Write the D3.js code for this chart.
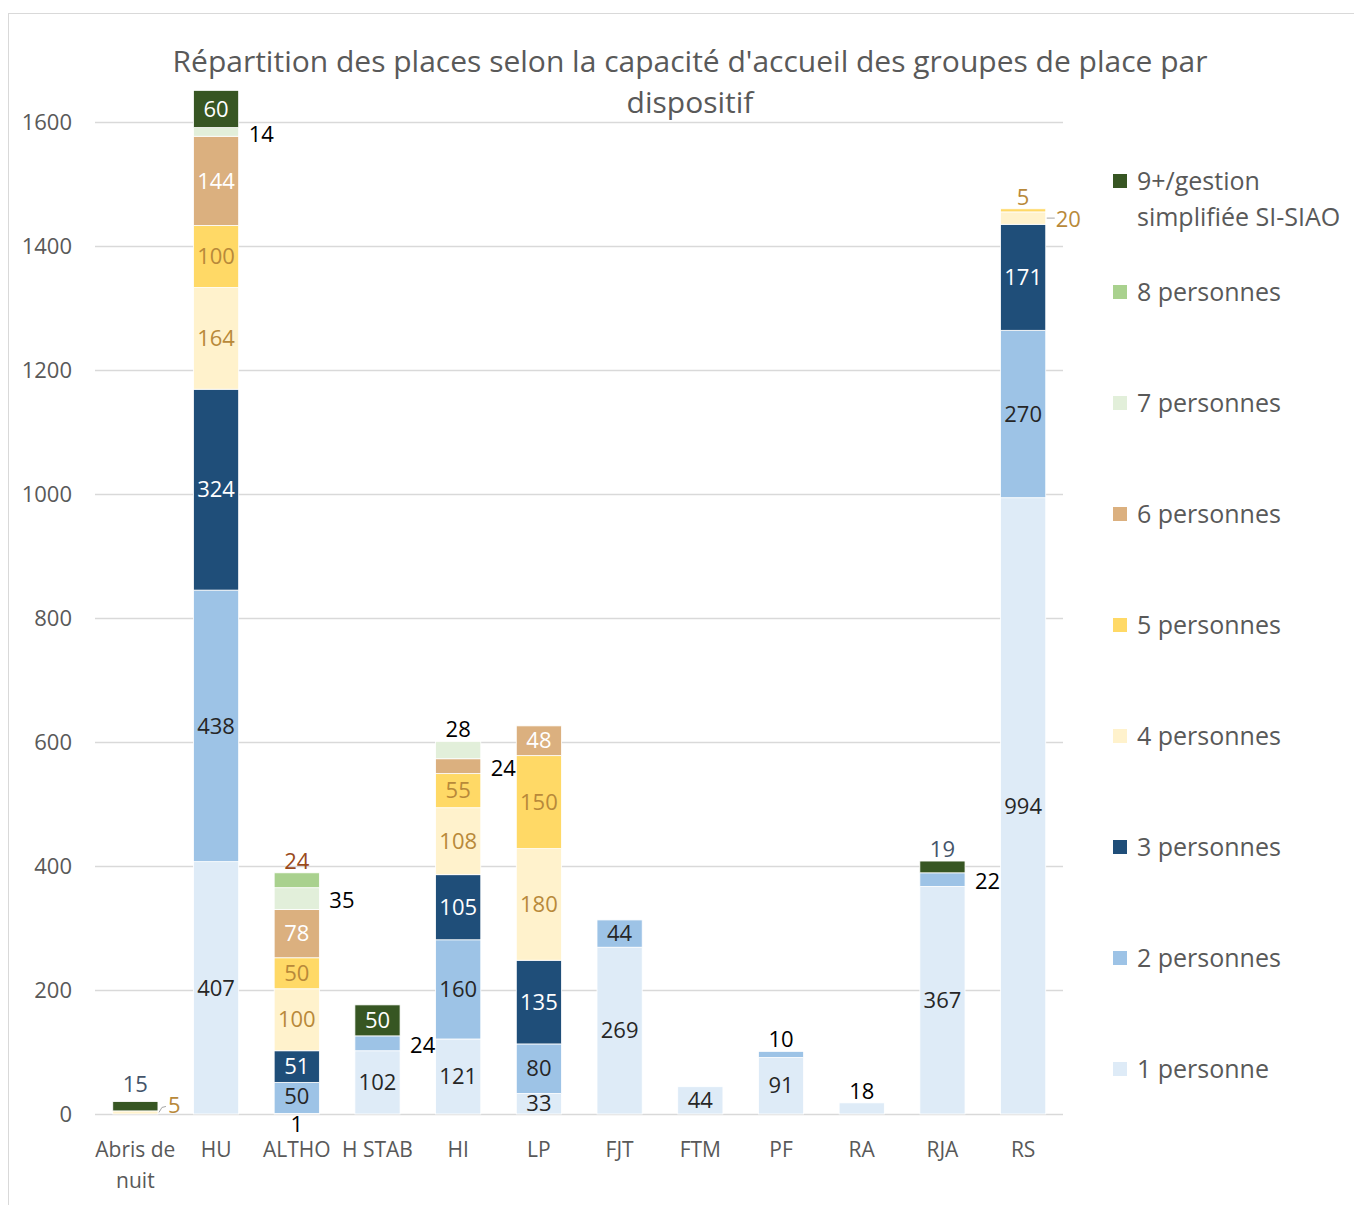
<!DOCTYPE html>
<html>
<head>
<meta charset="utf-8">
<script src="https://cdn.jsdelivr.net/npm/d3@7"></script>
<style>
  body { margin: 0; background: #fff; }
  svg text { font-family: "Open Sans", "Noto Sans", sans-serif; }
</style>
</head>
<body>
<svg id="chart"></svg>
<script>
/* Data */
const categories = ["Abris de nuit", "HU", "ALTHO", "H STAB", "HI", "LP", "FJT", "FTM", "PF", "RA", "RJA", "RS"];
const seriesNames = ["1 personne", "2 personnes", "3 personnes", "4 personnes", "5 personnes",
                     "6 personnes", "7 personnes", "8 personnes", "9+/gestion simplifiée SI-SIAO"];
const p1 = [0, 407, 1, 102, 121, 33, 269, 44, 91, 18, 367, 994];
const p2 = [0, 438, 50, 24, 160, 80, 44, 0, 10, 0, 22, 270];
const p3 = [0, 324, 51, 0, 105, 135, 0, 0, 0, 0, 0, 171];
const p4 = [5, 164, 100, 0, 108, 180, 0, 0, 0, 0, 0, 20];
const p5 = [0, 100, 50, 0, 55, 150, 0, 0, 0, 0, 0, 5];
const p6 = [0, 144, 78, 0, 24, 48, 0, 0, 0, 0, 0, 0];
const p7 = [0, 14, 35, 0, 28, 0, 0, 0, 0, 0, 0, 0];
const p8 = [0, 0, 24, 0, 0, 0, 0, 0, 0, 0, 0, 0];
const p9 = [15, 60, 0, 50, 0, 0, 0, 0, 0, 0, 19, 0];
const yTicks = [0, 200, 400, 600, 800, 1000, 1200, 1400, 1600];

/* labels that sit outside their segment: [category, series index, where] */
const outsideLabels = [
  ["Abris de nuit", 8, "top"], ["Abris de nuit", 3, "leader"],
  ["HU", 6, "right"],
  ["ALTHO", 7, "top"], ["ALTHO", 6, "right"], ["ALTHO", 0, "below"],
  ["H STAB", 1, "right"],
  ["HI", 6, "top"], ["HI", 5, "right"],
  ["PF", 1, "top"], ["RA", 0, "top"],
  ["RJA", 8, "top"], ["RJA", 1, "right"],
  ["RS", 4, "top"], ["RS", 3, "leader"]
];

/* Styles */
const colors = ["#deebf7", "#9dc3e6", "#1f4e79", "#fff2cc", "#ffd966", "#dbb07f", "#e2efda", "#a9d18e", "#375623"];
const insideText = ["#262626", "#262626", "#ffffff", "#b8893a", "#b8893a", "#ffffff", "#000000", "#8b4513", "#ffffff"];
const outsideText = ["#000000", "#000000", "#000000", "#b8893a", "#b8893a", "#000000", "#000000", "#9a4a1c", "#44546a"];

const W = 1354, H = 1205;
const svg = d3.select("#chart").attr("width", W).attr("height", H);

svg.append("rect")
  .attr("x", 8.5).attr("y", 13.5).attr("width", 1400).attr("height", 1250)
  .attr("fill", "#fff").attr("stroke", "#d9d9d9");

/* Title */
svg.append("text")
  .attr("x", 690).attr("y", 72)
  .attr("text-anchor", "middle").attr("font-size", 30).attr("fill", "#595959")
  .text("Répartition des places selon la capacité d'accueil des groupes de place par");
svg.append("text")
  .attr("x", 690).attr("y", 113)
  .attr("text-anchor", "middle").attr("font-size", 30).attr("fill", "#595959")
  .text("dispositif");

/* Scales */
const x = d3.scaleBand().domain(categories).range([95, 1063.5]).paddingInner(0.44).paddingOuter(0.22);
const y = d3.scaleLinear().domain([0, 1600]).range([1114, 122]);

/* Gridlines + y labels */
svg.append("g").selectAll("line").data(yTicks).join("line")
  .attr("x1", 95).attr("x2", 1063)
  .attr("y1", d => y(d) + 0.5).attr("y2", d => y(d) + 0.5)
  .attr("stroke", "#d9d9d9").attr("stroke-width", 1.3);

svg.append("g").selectAll("text").data(yTicks).join("text")
  .attr("x", 72).attr("y", d => y(d))
  .attr("dy", "0.35em").attr("text-anchor", "end")
  .attr("font-size", 22).attr("fill", "#595959")
  .text(d => d);

/* x labels */
const xl = svg.append("g").selectAll("text").data(categories).join("text")
  .attr("x", d => x(d) + x.bandwidth() / 2).attr("y", 1157)
  .attr("text-anchor", "middle").attr("font-size", 21).attr("fill", "#595959");
xl.each(function (d) {
  const t = d3.select(this);
  if (d === "Abris de nuit") {
    t.append("tspan").attr("x", x(d) + x.bandwidth() / 2).text("Abris de");
    t.append("tspan").attr("x", x(d) + x.bandwidth() / 2).attr("dy", 31).text("nuit");
  } else t.text(d);
});

/* Stack */
const allSeries = [p1, p2, p3, p4, p5, p6, p7, p8, p9];
const table = categories.map((c, i) => {
  const row = { cat: c };
  allSeries.forEach((s, k) => row["s" + k] = s[i]);
  return row;
});
const stack = d3.stack().keys(allSeries.map((s, k) => "s" + k))(table);

const bars = svg.append("g");
stack.forEach((layer, k) => {
  bars.append("g").selectAll("rect").data(layer.filter(d => d[1] > d[0])).join("rect")
    .attr("x", d => x(d.data.cat))
    .attr("width", x.bandwidth())
    .attr("y", d => y(d[1]))
    .attr("height", d => y(d[0]) - y(d[1]))
    .attr("fill", colors[k])
    .attr("stroke", "#fff").attr("stroke-width", 0.8);
});

/* Data labels */
const labels = svg.append("g").attr("font-size", 22);
stack.forEach((layer, k) => {
  layer.forEach(d => {
    const v = d[1] - d[0];
    if (!(v > 0)) return;
    const cat = d.data.cat;
    const spec = outsideLabels.find(o => o[0] === cat && o[1] === k);
    const x0 = x(cat), xc = x0 + x.bandwidth() / 2, xr = x0 + x.bandwidth();
    let ym = (y(d[0]) + y(d[1])) / 2;
    // ALTHO "50" sits a little higher to leave room for the "1" below
    if (cat === "ALTHO" && k === 1) ym -= 2;
    let tx = xc, ty = ym, anchor = "middle", fill = insideText[k];
    if (spec) {
      fill = outsideText[k];
      const totalTop = y(d3.sum(allSeries, s => s[categories.indexOf(cat)]));
      if (spec[2] === "top") { ty = totalTop - (cat === "Abris de nuit" ? 17 : 12); }
      else if (spec[2] === "below") { ty = y(0) + 10; }
      else if (spec[2] === "right") { tx = xr + 10; anchor = "start"; ty = ym + 2; }
      else if (spec[2] === "leader") {
        tx = xr + 10; anchor = "start";
        ty = cat === "RS" ? ym + 1 : ym - 7;
        labels.append("path")
          .attr("d", cat === "RS"
            ? `M${xr + 1},${ym} L${xr + 9},${ym}`
            : `M${xr + 1},${ym} L${xr + 4},${ym - 5} L${xr + 8},${ym - 6}`)
          .attr("fill", "none").attr("stroke", "#a6a6a6").attr("stroke-width", 1);
      }
    }
    labels.append("text")
      .attr("x", tx).attr("y", ty).attr("dy", "0.35em")
      .attr("text-anchor", anchor).attr("fill", fill)
      .text(v);
  });
});

/* Legend */
const legendOrder = d3.range(8, -1, -1);
const lg = svg.append("g").selectAll("g").data(legendOrder).join("g")
  .attr("transform", (d, i) => `translate(1113, ${181 + i * 111})`);
lg.append("rect").attr("x", 0).attr("y", -7).attr("width", 14).attr("height", 14)
  .attr("fill", d => colors[d]);
lg.each(function (d) {
  const t = d3.select(this).append("text")
    .attr("x", 24).attr("y", 0).attr("dy", "0.35em")
    .attr("font-size", 25).attr("fill", "#595959");
  if (d === 8) {
    t.append("tspan").attr("x", 24).text("9+/gestion");
    t.append("tspan").attr("x", 24).attr("dy", 36).text("simplifiée SI-SIAO");
  } else t.text(seriesNames[d]);
});
</script>
</body>
</html>
